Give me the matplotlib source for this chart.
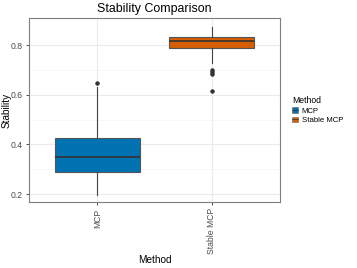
import matplotlib.pyplot as plt
from matplotlib.patches import Patch
from matplotlib.lines import Line2D

plt.rcParams['font.family'] = ['Liberation Sans', 'DejaVu Sans']

methods = ["MCP", "Stable MCP"]
colors = ["#0072B2", "#D55E00"]
q1 = [0.288, 0.787]
median = [0.349, 0.817]
q3 = [0.425, 0.832]
whislo = [0.198, 0.726]
whishi = [0.632, 0.874]
outliers = [[0.648], [0.698, 0.690, 0.685, 0.617]]

stats = []
for i in range(len(methods)):
    stats.append({"label": methods[i], "q1": q1[i], "med": median[i], "q3": q3[i],
                  "whislo": whislo[i], "whishi": whishi[i], "fliers": outliers[i]})

fig = plt.figure(figsize=(3.57, 2.68), dpi=100)
ax = fig.add_axes([29 / 357, 1 - 202 / 268, 251 / 357, 184 / 268])

bp = ax.bxp(stats, positions=[1, 2], widths=0.75, patch_artist=True, showcaps=False,
            boxprops=dict(edgecolor="#555555", linewidth=0.8),
            medianprops=dict(color="#333333", linewidth=1.2),
            whiskerprops=dict(color="#444444", linewidth=0.8),
            flierprops=dict(marker="o", markersize=2.2, markerfacecolor="#333333",
                            markeredgecolor="#333333", linestyle="none"))
for patch, c in zip(bp["boxes"], colors):
    patch.set_facecolor(c)
    patch.set_zorder(2)

ax.set_xlim(0.4, 2.6)
ax.set_ylim(0.168, 0.909)
ax.set_yticks([0.2, 0.4, 0.6, 0.8])
ax.set_yticks([0.3, 0.5, 0.7], minor=True)
ax.set_xticks([1, 2])
ax.set_xticklabels(methods, rotation=90)
ax.grid(True, which="major", color="#EBEBEB", linewidth=0.8, zorder=0)
ax.grid(True, which="minor", axis="y", color="#F4F4F4", linewidth=0.5, zorder=0)
ax.set_axisbelow(True)
ax.tick_params(axis="both", which="major", length=2.5, width=0.6, color="#333333",
               labelsize=6.2, labelcolor="#4D4D4D", pad=2)
ax.tick_params(axis="y", which="minor", length=0)
for s in ax.spines.values():
    s.set_color("#7F7F7F")
    s.set_linewidth(0.8)

ax.set_title("Stability Comparison", fontsize=8.9, pad=4)
ax.set_xlabel("Method", fontsize=7.2, va="center")
ax.xaxis.set_label_coords(0.5, (202 - 260) / 184)
ax.set_ylabel("Stability", fontsize=7.2, va="center")
ax.yaxis.set_label_coords((7 - 29) / 251, 0.5)

handles = [(Patch(facecolor=c, edgecolor="#666666", linewidth=0.4),
            Line2D([], [], color="#333333", linewidth=0.5)) for c in colors]
leg = fig.legend(handles, methods, title="Method", loc="upper left",
                 bbox_to_anchor=(287 / 357, 1 - 91 / 268), frameon=False,
                 fontsize=5.6, title_fontsize=6.2, handlelength=0.75, handleheight=0.7,
                 handletextpad=0.45, labelspacing=0.25, borderpad=0.2)
leg._legend_box.align = "left"

fig.savefig("out.png", dpi=100)
